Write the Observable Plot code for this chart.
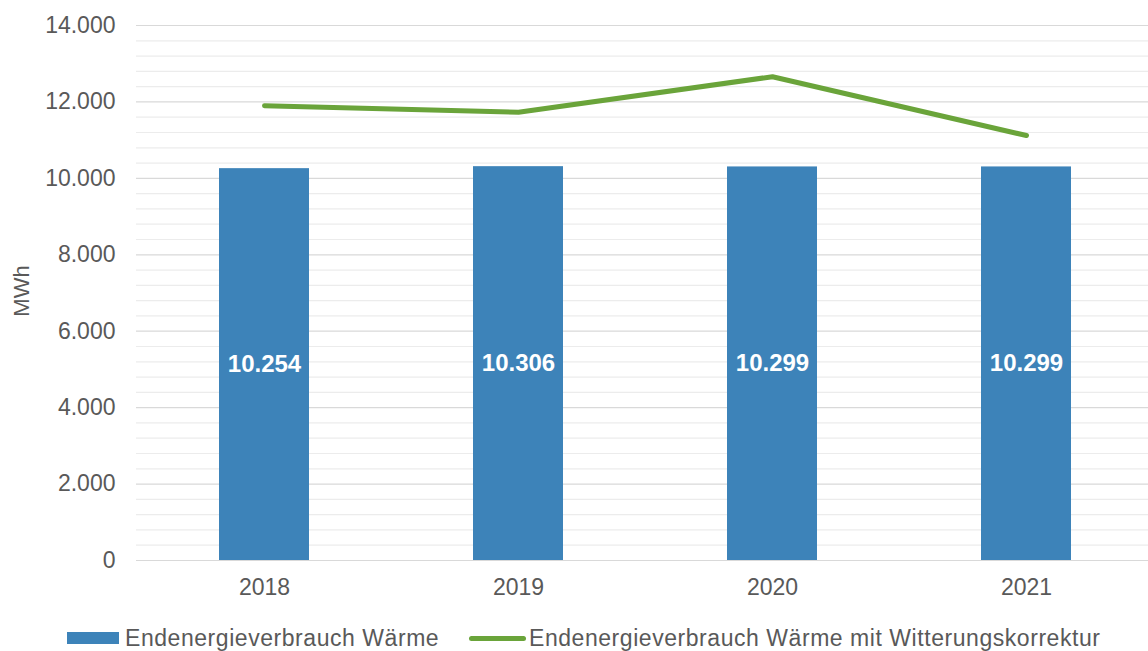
<!DOCTYPE html>
<html>
<head>
<meta charset="utf-8">
<script src="https://cdn.jsdelivr.net/npm/d3@7"></script>
<script src="https://cdn.jsdelivr.net/npm/@observablehq/plot@0.6"></script>
<style>
  html, body { margin: 0; padding: 0; background: #fff; width: 1148px; height: 651px; overflow: hidden; }
  body { font-family: "Liberation Sans", Arial, sans-serif; }
  #legend { position: absolute; left: 0; top: 625px; height: 26px; width: 1148px; font-size: 23px; color: #595959; letter-spacing: 0.55px; }
  .item { position: absolute; top: 0; display: flex; align-items: center; height: 26px; white-space: nowrap; }
  .sw-bar { width: 52px; height: 12px; background: #3d83b9; margin-right: 6px; }
  .sw-line { width: 57px; height: 5px; border-radius: 3px; background: #6aa43a; margin-right: 3px; }
</style>
</head>
<body>
<div id="chart"></div>
<div id="legend">
  <div class="item" style="left:67px"><div class="sw-bar"></div><span>Endenergieverbrauch Wärme</span></div>
  <div class="item" style="left:469px"><div class="sw-line"></div><span>Endenergieverbrauch Wärme mit Witterungskorrektur</span></div>
</div>
<script>
const years = ["2018", "2019", "2020", "2021"];
const waerme = [10254, 10306, 10299, 10299];
const waermeKorrigiert = [11900, 11730, 12660, 11120];
const yTicks = [0, 2000, 4000, 6000, 8000, 10000, 12000, 14000];
const minorTicks = d3.range(0, 14001, 400).filter(v => v % 2000 !== 0);

const barData = years.map((y, i) => ({year: y, value: waerme[i]}));
const lineData = years.map((y, i) => ({year: y, value: waermeKorrigiert[i]}));
const fmt = v => d3.format(",")(v).replace(/,/g, ".");

const chart = Plot.plot({
  width: 1148,
  height: 615,
  marginLeft: 136,
  marginRight: 0,
  marginTop: 25,
  marginBottom: 55,
  style: {fontFamily: "'Liberation Sans', Arial, sans-serif", fontSize: "23px", color: "#595959", background: "#fff"},
  x: {domain: years, range: [136, 1154], paddingInner: 0.645, paddingOuter: 0.3225, label: null},
  y: {domain: [0, 14000], label: null},
  marks: [
    Plot.ruleY(minorTicks, {stroke: "#ececec", strokeWidth: 1.2}),
    Plot.ruleY(yTicks, {stroke: "#d9d9d9", strokeWidth: 1.2}),
    Plot.barY(barData, {x: "year", y: "value", fill: "#3d83b9"}),
    Plot.line(lineData, {x: "year", y: "value", stroke: "#6aa43a", strokeWidth: 5, strokeLinecap: "round", strokeLinejoin: "round"}),
    Plot.text(barData, {x: "year", y: d => d.value / 2, text: d => fmt(d.value), fill: "white", fontWeight: "bold", fontSize: 24}),
    Plot.axisY({ticks: yTicks, tickFormat: fmt, tickSize: 0, tickPadding: 21, label: null, fontSize: 23, fill: "#595959", style: {letterSpacing: "0.6px"}}),
    Plot.axisX({tickSize: 0, tickPadding: 18, label: null, fontSize: 23, fill: "#595959"}),
    Plot.text(["MWh"], {frameAnchor: "left", textAnchor: "middle", dx: -115, dy: -2, rotate: -90, fontSize: 22, fill: "#595959"})
  ]
});
document.getElementById("chart").appendChild(chart);
</script>
</body>
</html>
